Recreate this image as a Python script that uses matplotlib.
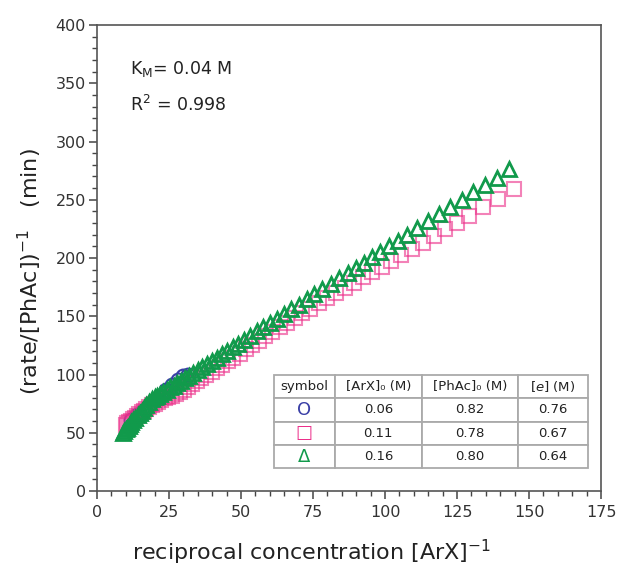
import matplotlib
matplotlib.use("Agg")
import matplotlib.pyplot as plt
from matplotlib.ticker import MultipleLocator

plt.rcParams['font.family'] = ['DejaVu Sans']

# Datele
circ_x = [12, 14, 16, 18, 20, 22, 24, 26, 28, 30, 31.5]
circ_y = [61, 65, 69, 73, 78, 82, 86.5, 91, 95, 98.5, 100]

sq_x = [10.0, 10.6, 11.2, 11.8, 12.5, 13.2, 13.9, 14.7, 15.5, 16.3, 17.2, 18.1,
        19.1, 20.1, 21.2, 22.3, 23.5, 24.7, 26.0, 27.3, 28.7, 30.1, 31.6, 33.1,
        34.7, 36.3, 38.0, 39.8, 41.6, 43.5, 45.4, 47.4, 49.5, 51.6, 53.8, 56.1,
        58.5, 60.9, 63.4, 66.0, 68.6, 71.3, 74.1, 77.0, 79.9, 82.9, 86.0, 89.1,
        92.3, 95.5, 98.8, 102.2, 105.7, 109.3, 113.1, 117.0, 120.9, 124.9,
        129.2, 134.0, 139.2, 144.6]
sq_y = [57, 58, 59.5, 60.5, 62, 63, 64.5, 66, 67.5, 69, 70.5, 72,
        73.5, 75, 76.5, 78, 79.5, 81, 82, 83.5, 85, 87, 89.5, 92,
        94.5, 97, 99.5, 102.5, 105.5, 108.5, 111.5, 114.5, 118, 121.5, 125, 129,
        133, 136.5, 140.5, 144.5, 148.5, 152.5, 156.5, 161, 165.5, 170, 174.5, 179,
        183.5, 188, 192.5, 197.5, 202.5, 207.5, 213, 219, 224.5, 230.5,
        236.5, 243.5, 251, 259]

tri_x = [9.0, 9.5, 10.0, 10.5, 11.0, 11.5, 12.0, 12.7, 13.4, 14.1, 14.8, 15.6,
         16.4, 17.2, 18.1, 19.0, 20.0, 21.0, 22.0, 23.1, 24.2, 25.4, 26.6, 27.9,
         29.2, 30.6, 32.0, 33.5, 35.0, 36.6, 38.2, 39.9, 41.6, 43.4, 45.2, 47.1,
         49.1, 51.2, 53.3, 55.5, 57.8, 60.1, 62.5, 65.0, 67.5, 70.1, 72.8, 75.5,
         78.3, 81.2, 84.1, 87.0, 89.8, 92.6, 95.5, 98.4, 101.4, 104.5, 107.6,
         111.1, 114.9, 118.8, 122.7, 126.6, 130.6, 134.7, 138.8, 143.2]
tri_y = [50, 51.5, 53, 54.5, 56, 57.5, 59, 61, 63, 65, 67, 69,
         71.5, 74, 76.5, 79, 81, 82, 83.5, 85, 87, 89, 90.5, 92.5,
         94.5, 97, 99, 101.5, 104, 106.5, 109, 112, 114.5, 117.5, 120.5, 123.5,
         126.5, 130, 133, 137, 140.5, 144, 148, 152, 156, 160, 164.5, 169,
         173, 178, 182.5, 187, 191.5, 196, 201, 205.5, 210, 215, 220,
         225.5, 231.5, 238, 244, 250, 256.5, 263, 269, 276]

tabel_cap = ['symbol', '[ArX]₀ (M)', '[PhAc]₀ (M)', '[$e$] (M)']
simboluri = ['O', '□', 'Δ']
arx0 = ['0.06', '0.11', '0.16']
phac0 = ['0.82', '0.78', '0.80']
e_conc = ['0.76', '0.67', '0.64']

albastru = '#3a3fa6'
roz = '#ec2f8a'
verde = '#119a4b'

fig = plt.figure(figsize=(6.21, 5.69), dpi=100)
ax = fig.add_axes([0.156, 0.137, 0.812, 0.819])

ax.plot(circ_x, circ_y, 'o', ms=10, mfc='none', mec=albastru, mew=1.5)
ax.plot(sq_x, sq_y, 's', ms=10, mfc='none', mec=roz, mew=1.5, alpha=0.6)
ax.plot(tri_x, tri_y, '^', ms=10.5, mfc='none', mec=verde, mew=2)

ax.set_xlim(0, 175)
ax.set_ylim(0, 400)
ax.xaxis.set_major_locator(MultipleLocator(25))
ax.xaxis.set_minor_locator(MultipleLocator(5))
ax.yaxis.set_major_locator(MultipleLocator(50))
ax.yaxis.set_minor_locator(MultipleLocator(10))
ax.tick_params(which='major', direction='out', length=6, width=1.1,
               color='#444444', labelsize=11.5, labelcolor='#333333', pad=2)
ax.tick_params(which='minor', direction='out', length=3.5, width=1,
               color='#444444')
ax.tick_params(axis='x', which='major', pad=4)
for s in ax.spines.values():
    s.set_color('#555555')
    s.set_linewidth(1.2)

ax.set_xlabel(r'reciprocal concentration [ArX]$^{-1}$', fontsize=16,
              color='#222222')
ax.set_ylabel(r'(rate/[PhAc])$^{-1}$   (min)', fontsize=16,
              color='#222222')
ax.xaxis.set_label_coords(0.425, -0.1)
ax.yaxis.set_label_coords(-0.105, 0.47)

ax.text(0.066, 0.905, r'K$_\mathregular{M}$= 0.04 M', transform=ax.transAxes,
        fontsize=12.5, color='#222222', va='center')
ax.text(0.066, 0.828, r'R$^\mathregular{2}$ = 0.998', transform=ax.transAxes,
        fontsize=12.5, color='#222222', va='center')

# tabelul cu conditiile initiale
randuri = [tabel_cap] + [[simboluri[i], arx0[i], phac0[i], e_conc[i]]
                         for i in range(3)]
tab = ax.table(cellText=randuri, cellLoc='center',
               colWidths=[0.194, 0.277, 0.306, 0.223],
               bbox=[0.351, 0.049, 0.623, 0.2])
tab.auto_set_font_size(False)
tab.set_fontsize(9.5)
culori_simbol = [albastru, roz, verde]
for (r, c), cell in tab.get_celld().items():
    cell.set_edgecolor('#aaaaaa')
    cell.set_linewidth(1.3)
    cell.set_facecolor('white')
    cell.get_text().set_color('#222222')
    if r > 0 and c == 0:
        cell.get_text().set_color(culori_simbol[r - 1])
        cell.get_text().set_fontsize(13)

fig.savefig('out.png', dpi=100)
